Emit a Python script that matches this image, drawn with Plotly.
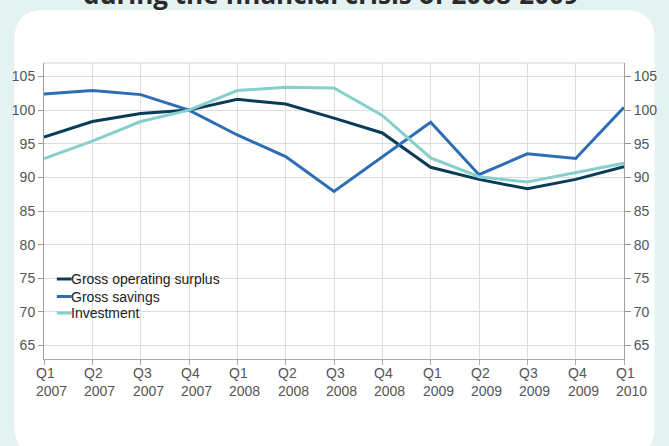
import plotly.graph_objects as go

# Quarterly indices, Q1 2007 - Q1 2010
quarters = ["Q1", "Q2", "Q3", "Q4", "Q1", "Q2", "Q3", "Q4", "Q1", "Q2", "Q3", "Q4", "Q1"]
years = ["2007", "2007", "2007", "2007", "2008", "2008", "2008", "2008",
         "2009", "2009", "2009", "2009", "2010"]
categories = [f"{q} {y}" for q, y in zip(quarters, years)]

gross_operating_surplus = [96.0, 98.3, 99.5, 100.0, 101.6, 100.9, 98.8, 96.6,
                           91.5, 89.7, 88.3, 89.7, 91.6]
gross_savings = [102.4, 102.9, 102.3, 100.0, 96.3, 93.1, 87.9, 93.1,
                 98.2, 90.4, 93.5, 92.8, 100.4]
investment = [92.8, 95.4, 98.3, 100.0, 102.9, 103.4, 103.3, 99.2,
              92.9, 90.1, 89.3, 90.7, 92.1]

series_names = ["Gross operating surplus", "Gross savings", "Investment"]
series_values = [gross_operating_surplus, gross_savings, investment]
series_colors = ["#0a3b57", "#2d6db4", "#86cfcb"]

y_ticks = [65, 70, 75, 80, 85, 90, 95, 100, 105]
title_text = "during the financial crisis of 2008-2009"

W, H = 669, 446
ML, MR, MT, MB = 42, 39, 63, 87
PW, PH = W - ML - MR, H - MT - MB


def px(x):
    return (x - ML) / PW


def py(y):
    return (H - MB - y) / PH


FONT = "Arial, Liberation Sans, sans-serif"
TICK_COLOR = "#555555"

fig = go.Figure()
for name, vals, col in zip(series_names, series_values, series_colors):
    fig.add_trace(go.Scatter(x=categories, y=vals, mode="lines", name=name,
                             line=dict(color=col, width=3), showlegend=False))

# rounded white panel on the tinted page
L, R, T, B, r = 12, 661, 10, 456, 30
path = (f"M {px(L)} {py(T + r)} Q {px(L)} {py(T)} {px(L + r)} {py(T)} "
        f"L {px(R - r)} {py(T)} Q {px(R)} {py(T)} {px(R)} {py(T + r)} "
        f"L {px(R)} {py(B - r)} Q {px(R)} {py(B)} {px(R - r)} {py(B)} "
        f"L {px(L + r)} {py(B)} Q {px(L)} {py(B)} {px(L)} {py(B - r)} Z")
shapes = [dict(type="path", xref="paper", yref="paper", path=path,
               fillcolor="white", line=dict(width=0), layer="below"),
          dict(type="line", xref="paper", yref="paper", x0=0, x1=1, y0=1, y1=1,
               line=dict(color="#d2d2d2", width=1))]

annotations = [dict(text=f"<b>{title_text}</b>", xref="paper", yref="paper",
                    x=px(333), y=py(14), xanchor="center", yanchor="bottom",
                    showarrow=False,
                    font=dict(family="Open Sans, sans-serif", size=26, color="#2a2a2a"))]

# two-line quarter labels, left aligned under each tick
for cat, q, yv in zip(categories, quarters, years):
    annotations.append(dict(text=f"{q}<br>{yv}", x=cat, xref="x", yref="paper",
                            y=py(363), xanchor="left", yanchor="top", xshift=-10,
                            align="left", showarrow=False,
                            font=dict(family=FONT, size=14, color=TICK_COLOR)))

# legend drawn inside the plot area
leg_rows = [279, 296.5, 313]
for name, col, yy in zip(series_names, series_colors, leg_rows):
    shapes.append(dict(type="line", xref="paper", yref="paper",
                       x0=px(55), x1=px(70), y0=py(yy), y1=py(yy),
                       line=dict(color=col, width=3)))
    annotations.append(dict(text=name, xref="paper", yref="paper",
                            x=px(67), y=py(yy), xanchor="left", yanchor="middle",
                            showarrow=False,
                            font=dict(family=FONT, size=14, color="#222222")))

yaxis_common = dict(range=[63, 107], tickmode="array", tickvals=y_ticks,
                    ticks="outside", tickcolor="#999999", showline=True,
                    linecolor="#a0a0a0", linewidth=1, zeroline=False,
                    tickfont=dict(family=FONT, size=14, color=TICK_COLOR),
                    fixedrange=True)

fig.update_layout(
    width=W, height=H,
    margin=dict(l=ML, r=MR, t=MT, b=MB),
    paper_bgcolor="#e4f2f2",
    plot_bgcolor="rgba(0,0,0,0)",
    shapes=shapes,
    annotations=annotations,
    xaxis=dict(range=[0, 12], showticklabels=False, ticks="outside", ticklen=5,
               tickcolor="#aaaaaa", showgrid=True, gridcolor="#dddddd",
               showline=True, linecolor="#a8a8a8", zeroline=False, fixedrange=True),
    yaxis=dict(**yaxis_common, ticklen=5, showgrid=True, gridcolor="#dddddd", side="left"),
    yaxis2=dict(**yaxis_common, ticklen=6, showgrid=False, side="right",
                overlaying="y"),
    showlegend=False,
)

# invisible companion trace so the right axis is rendered
fig.add_trace(go.Scatter(x=categories, y=gross_operating_surplus, yaxis="y2",
                         mode="lines", line=dict(width=0), hoverinfo="skip",
                         showlegend=False, opacity=0))

fig.write_html("out.html")
